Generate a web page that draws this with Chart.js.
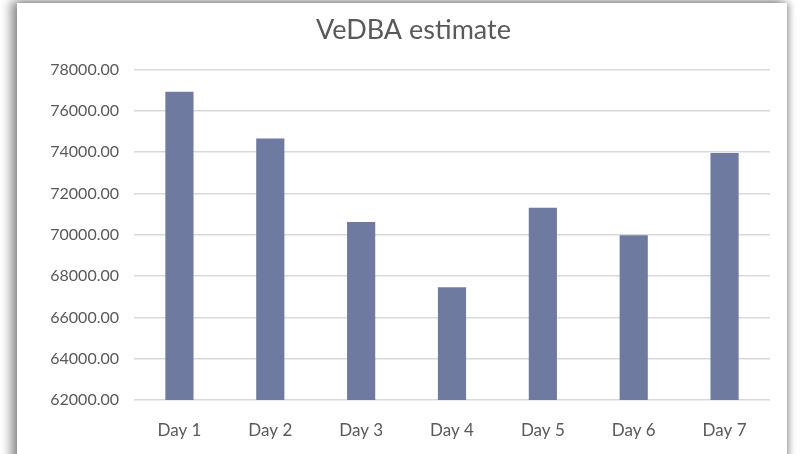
<!DOCTYPE html>
<html>
<head>
<meta charset="utf-8">
<script src="https://cdn.jsdelivr.net/npm/chart.js@4"></script>
<style>
  html, body { margin: 0; padding: 0; background: #ffffff; overflow: hidden; }
  body { width: 801px; height: 454px; position: relative; }
  #card {
    position: absolute; left: 17px; top: 3px; width: 770px; height: 470px;
    background: #ffffff;
    box-shadow: -5px -1px 10px 1px rgba(0,0,0,0.45), 3px 0 6px rgba(0,0,0,0.25);
  }
  #c { position: absolute; left: 0; top: 0; }
</style>
</head>
<body>
<div id="card"><canvas id="c" width="770" height="451"></canvas></div>
<script>
const categories = ["Day 1", "Day 2", "Day 3", "Day 4", "Day 5", "Day 6", "Day 7"];
const vedba = [76920, 74650, 70610, 67460, 71300, 69970, 73950];
const yTicks = [62000, 64000, 66000, 68000, 70000, 72000, 74000, 76000, 78000];
const titleText = "VeDBA estimate";

const FONT = "Lato, 'Open Sans', sans-serif";
const TXT = "#595959";

const shiftTitle = {
  id: "shiftTitle",
  afterLayout(chart) {
    if (chart.titleBlock) { chart.titleBlock.left += 40; }
  }
};

new Chart(document.getElementById("c"), {
  type: "bar",
  data: {
    labels: categories,
    datasets: [{
      data: vedba,
      backgroundColor: "#6e7a9f",
      borderWidth: 0,
      barPercentage: 0.31,
      categoryPercentage: 1.0
    }]
  },
  plugins: [shiftTitle],
  options: {
    responsive: false,
    animation: false,
    devicePixelRatio: 1,
    layout: { padding: { left: 0, right: 17, top: 0, bottom: 0 } },
    plugins: {
      legend: { display: false },
      tooltip: { enabled: false },
      title: {
        display: true,
        text: titleText,
        color: TXT,
        font: { family: FONT, size: 27, weight: "normal" },
        padding: { top: 11, bottom: 23 }
      }
    },
    scales: {
      x: {
        grid: { display: false },
        border: { display: false },
        ticks: {
          color: TXT,
          font: { family: FONT, size: 17 },
          padding: 12,
          maxRotation: 0
        },
        afterFit: (s) => { s.height = 54; }
      },
      y: {
        min: yTicks[0],
        max: yTicks[yTicks.length - 1],
        afterBuildTicks: (s) => { s.ticks = yTicks.map(v => ({ value: v })); },
        grid: { color: "#d9d9d9", lineWidth: 1.5, drawTicks: false },
        border: { display: false },
        ticks: {
          color: TXT,
          font: { family: FONT, size: 16 },
          padding: 15,
          callback: (v) => Number(v).toFixed(2)
        },
        afterFit: (s) => { s.width = 117; }
      }
    }
  }
});
</script>
</body>
</html>
